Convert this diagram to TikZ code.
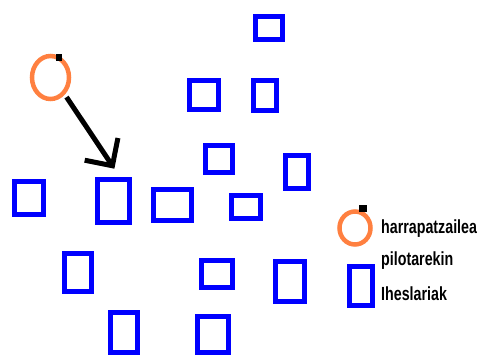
\documentclass[tikz,border=0pt]{standalone}
\usepackage{fontspec}
\setmainfont{Liberation Sans}
\usetikzlibrary{arrows.meta,shapes}
\definecolor{catcherorange}{RGB}{255,128,64}
\newcommand{\legendlabel}[1]{\scalebox{0.75}[1]{#1}}

\begin{document}
\begin{tikzpicture}[x=1pt,y=-1pt,
		runner/.style={draw=blue,line width=5pt,rectangle,inner sep=0pt},
		catcher/.style={draw=catcherorange,line width=4.5pt,ellipse,inner sep=0pt},
		ball/.style={fill=black,rectangle,inner sep=0pt},
		legendtext/.style={anchor=base west,inner sep=0pt,font=\bfseries\fontsize{19}{19}\selectfont}]
		\useasboundingbox (0,0) rectangle (480,356);

		\node[runner,minimum width=27pt,minimum height=23pt] (r1) at (269,28) {};
		\node[runner,minimum width=23pt,minimum height=30pt] (r2) at (265,95.5) {};
		\node[runner,minimum width=23pt,minimum height=33pt] (r3) at (297,172) {};
		\node[runner,minimum width=29pt,minimum height=29pt] (r4) at (204,95) {};
		\node[runner,minimum width=27pt,minimum height=27pt] (r5) at (219,159) {};
		\node[runner,minimum width=29pt,minimum height=33pt] (r6) at (29,198) {};
		\node[runner,minimum width=32pt,minimum height=43pt] (r7) at (113.5,201) {};
		\node[runner,minimum width=38pt,minimum height=31pt] (r8) at (172.5,205) {};
		\node[runner,minimum width=29pt,minimum height=23pt] (r9) at (246,207) {};
		\node[runner,minimum width=27pt,minimum height=38pt] (r10) at (78,272.5) {};
		\node[runner,minimum width=31pt,minimum height=27pt] (r11) at (217,274) {};
		\node[runner,minimum width=27pt,minimum height=40pt] (r12) at (124,332.5) {};
		\node[runner,minimum width=31pt,minimum height=36pt] (r13) at (213,334.5) {};
		\node[runner,minimum width=29pt,minimum height=40pt] (r14) at (290,281.5) {};

		\node[catcher,minimum width=37pt,minimum height=43pt] (catcher) at (50.5,77.5) {};
		\node[ball,minimum width=6pt,minimum height=7pt] (ball) at (59,57.5) {};

		\draw[-{Straight Barb[length=20pt,width=40pt]},line width=5pt,shorten <=3pt,shorten >=10pt] (catcher.-50) -- (r7.75);

		% legend
		\node[catcher,minimum width=31pt,minimum height=33pt] (keycatcher) at (355,228) {};
		\node[ball,minimum width=8pt,minimum height=7pt] (keyball) at (363,208.5) {};
		\node[runner,minimum width=23pt,minimum height=39pt] (keyrunner) at (361,286) {};
		\node[legendtext] (catcherlabel) at (381,233) {\legendlabel{harrapatzailea}};
		\node[legendtext] (balllabel) at (381,265) {\legendlabel{pilotarekin}};
		\node[legendtext] (runnerlabel) at (381,300) {\legendlabel{Iheslariak}};
	\end{tikzpicture}
\end{document}
